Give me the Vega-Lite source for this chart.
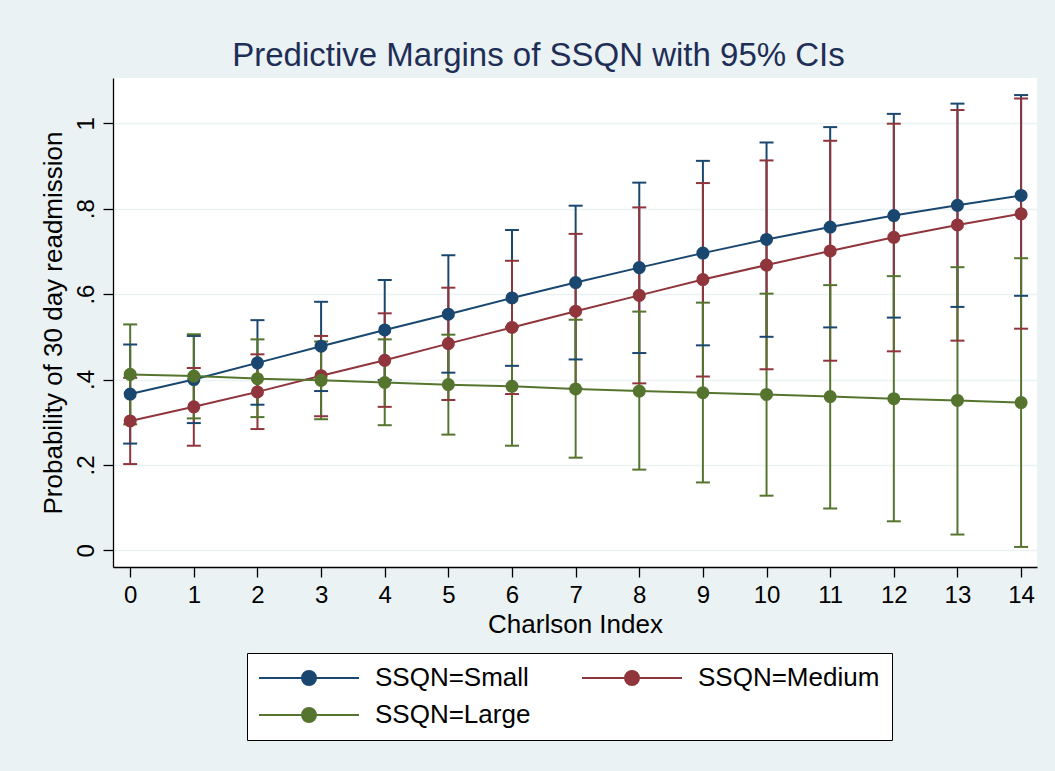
{
  "$schema": "https://vega.github.io/schema/vega-lite/v6.json",
  "width": 924,
  "height": 489,
  "autosize": {"type": "none"},
  "padding": {"left": 113, "top": 78, "right": 18, "bottom": 204},
  "background": "#EAF2F3",
  "title": {
    "text": "Predictive Margins of SSQN with 95% CIs",
    "fontSize": 33,
    "font": "Liberation Sans",
    "fontWeight": "normal",
    "color": "#1E2E57",
    "anchor": "middle",
    "frame": "bounds",
    "offset": 5
  },
  "config": {
    "font": "Liberation Sans",
    "view": {"fill": "white", "stroke": null},
    "axis": {
      "domainColor": "black",
      "domainWidth": 1.3,
      "tickColor": "black",
      "tickWidth": 1.3,
      "tickSize": 10,
      "labelColor": "black",
      "labelFontSize": 24,
      "titleColor": "black",
      "titleFontSize": 26,
      "titleFontWeight": "normal",
      "gridColor": "#EAF2F3",
      "gridWidth": 1.6
    }
  },
  "data": {
    "values": [
      {"charlson": 0, "group": "SSQN=Small", "margin": 0.366, "lo": 0.250, "hi": 0.482},
      {"charlson": 0, "group": "SSQN=Medium", "margin": 0.303, "lo": 0.202, "hi": 0.404},
      {"charlson": 0, "group": "SSQN=Large", "margin": 0.412, "lo": 0.295, "hi": 0.529},
      {"charlson": 1, "group": "SSQN=Small", "margin": 0.400, "lo": 0.298, "hi": 0.502},
      {"charlson": 1, "group": "SSQN=Medium", "margin": 0.336, "lo": 0.245, "hi": 0.427},
      {"charlson": 1, "group": "SSQN=Large", "margin": 0.408, "lo": 0.309, "hi": 0.506},
      {"charlson": 2, "group": "SSQN=Small", "margin": 0.439, "lo": 0.341, "hi": 0.539},
      {"charlson": 2, "group": "SSQN=Medium", "margin": 0.371, "lo": 0.284, "hi": 0.459},
      {"charlson": 2, "group": "SSQN=Large", "margin": 0.402, "lo": 0.312, "hi": 0.494},
      {"charlson": 3, "group": "SSQN=Small", "margin": 0.478, "lo": 0.373, "hi": 0.582},
      {"charlson": 3, "group": "SSQN=Medium", "margin": 0.409, "lo": 0.314, "hi": 0.502},
      {"charlson": 3, "group": "SSQN=Large", "margin": 0.398, "lo": 0.307, "hi": 0.489},
      {"charlson": 4, "group": "SSQN=Small", "margin": 0.516, "lo": 0.399, "hi": 0.633},
      {"charlson": 4, "group": "SSQN=Medium", "margin": 0.445, "lo": 0.336, "hi": 0.555},
      {"charlson": 4, "group": "SSQN=Large", "margin": 0.393, "lo": 0.293, "hi": 0.494},
      {"charlson": 5, "group": "SSQN=Small", "margin": 0.553, "lo": 0.416, "hi": 0.691},
      {"charlson": 5, "group": "SSQN=Medium", "margin": 0.484, "lo": 0.352, "hi": 0.615},
      {"charlson": 5, "group": "SSQN=Large", "margin": 0.388, "lo": 0.271, "hi": 0.505},
      {"charlson": 6, "group": "SSQN=Small", "margin": 0.591, "lo": 0.432, "hi": 0.750},
      {"charlson": 6, "group": "SSQN=Medium", "margin": 0.522, "lo": 0.366, "hi": 0.678},
      {"charlson": 6, "group": "SSQN=Large", "margin": 0.384, "lo": 0.245, "hi": 0.523},
      {"charlson": 7, "group": "SSQN=Small", "margin": 0.627, "lo": 0.447, "hi": 0.807},
      {"charlson": 7, "group": "SSQN=Medium", "margin": 0.560, "lo": 0.379, "hi": 0.741},
      {"charlson": 7, "group": "SSQN=Large", "margin": 0.378, "lo": 0.217, "hi": 0.540},
      {"charlson": 8, "group": "SSQN=Small", "margin": 0.662, "lo": 0.462, "hi": 0.861},
      {"charlson": 8, "group": "SSQN=Medium", "margin": 0.597, "lo": 0.391, "hi": 0.803},
      {"charlson": 8, "group": "SSQN=Large", "margin": 0.373, "lo": 0.189, "hi": 0.559},
      {"charlson": 9, "group": "SSQN=Small", "margin": 0.696, "lo": 0.480, "hi": 0.912},
      {"charlson": 9, "group": "SSQN=Medium", "margin": 0.634, "lo": 0.407, "hi": 0.860},
      {"charlson": 9, "group": "SSQN=Large", "margin": 0.369, "lo": 0.159, "hi": 0.580},
      {"charlson": 10, "group": "SSQN=Small", "margin": 0.728, "lo": 0.500, "hi": 0.955},
      {"charlson": 10, "group": "SSQN=Medium", "margin": 0.668, "lo": 0.424, "hi": 0.913},
      {"charlson": 10, "group": "SSQN=Large", "margin": 0.365, "lo": 0.128, "hi": 0.601},
      {"charlson": 11, "group": "SSQN=Small", "margin": 0.757, "lo": 0.522, "hi": 0.991},
      {"charlson": 11, "group": "SSQN=Medium", "margin": 0.701, "lo": 0.444, "hi": 0.959},
      {"charlson": 11, "group": "SSQN=Large", "margin": 0.360, "lo": 0.098, "hi": 0.621},
      {"charlson": 12, "group": "SSQN=Small", "margin": 0.784, "lo": 0.545, "hi": 1.022},
      {"charlson": 12, "group": "SSQN=Medium", "margin": 0.733, "lo": 0.466, "hi": 0.999},
      {"charlson": 12, "group": "SSQN=Large", "margin": 0.355, "lo": 0.068, "hi": 0.642},
      {"charlson": 13, "group": "SSQN=Small", "margin": 0.808, "lo": 0.570, "hi": 1.046},
      {"charlson": 13, "group": "SSQN=Medium", "margin": 0.762, "lo": 0.491, "hi": 1.031},
      {"charlson": 13, "group": "SSQN=Large", "margin": 0.351, "lo": 0.037, "hi": 0.663},
      {"charlson": 14, "group": "SSQN=Small", "margin": 0.831, "lo": 0.596, "hi": 1.066},
      {"charlson": 14, "group": "SSQN=Medium", "margin": 0.788, "lo": 0.519, "hi": 1.058},
      {"charlson": 14, "group": "SSQN=Large", "margin": 0.346, "lo": 0.008, "hi": 0.684}
    ]
  },
  "encoding": {
    "x": {
      "field": "charlson",
      "type": "quantitative",
      "title": "Charlson Index",
      "scale": {"domain": [-0.27, 14.25], "nice": false, "zero": false},
      "axis": {
        "values": [0, 1, 2, 3, 4, 5, 6, 7, 8, 9, 10, 11, 12, 13, 14],
        "grid": false,
        "labelPadding": 6,
        "titlePadding": 4
      }
    }
  },
  "layer": [
    {
      "mark": {"type": "rule", "strokeWidth": 2},
      "encoding": {
        "y": {
          "field": "lo",
          "type": "quantitative",
          "title": "Probability of 30 day readmission",
          "scale": {"domain": [-0.039, 1.106], "nice": false, "zero": false},
          "axis": {
            "values": [0, 0.2, 0.4, 0.6, 0.8, 1],
            "labelExpr": "replace(format(datum.value, '.1~f'), '0.', '.')",
            "labelAngle": -90,
            "labelAlign": "center",
            "labelBaseline": "alphabetic",
            "labelPadding": 10,
            "grid": true,
            "titlePadding": 8
          }
        },
        "y2": {"field": "hi"},
        "color": {
          "field": "group",
          "type": "nominal",
          "scale": {
            "domain": ["SSQN=Small", "SSQN=Medium", "SSQN=Large"],
            "range": ["#1A476F", "#90353B", "#55752F"]
          },
          "legend": {
            "title": null,
            "orient": "none",
            "legendX": 134,
            "legendY": 575,
            "direction": "horizontal",
            "columns": 2,
            "symbolType": "M-1.857,0H12.429M6.286,0A1,1,0,1,1,4.286,0A1,1,0,1,1,6.286,0Z",
            "symbolSize": 196,
            "symbolStrokeWidth": 2,
            "symbolOpacity": 1,
            "labelFontSize": 26,
            "labelColor": "black",
            "labelOffset": 90,
            "labelLimit": 0,
            "columnPadding": 47,
            "rowPadding": 11,
            "padding": 12,
            "fillColor": "white",
            "strokeColor": "black",
            "encode": {
              "symbols": {
                "update": {
                  "stroke": {"scale": "color", "field": "value"},
                  "fill": {"scale": "color", "field": "value"},
                  "size": {"value": 196},
                  "strokeWidth": {"value": 2},
                  "opacity": {"value": 1}
                }
              }
            }
          }
        }
      }
    },
    {
      "mark": {"type": "tick", "orient": "horizontal", "size": 14, "thickness": 2, "opacity": 1},
      "encoding": {
        "y": {"field": "lo", "type": "quantitative", "title": "Probability of 30 day readmission"},
        "color": {"field": "group", "type": "nominal"}
      }
    },
    {
      "mark": {"type": "tick", "orient": "horizontal", "size": 14, "thickness": 2, "opacity": 1},
      "encoding": {
        "y": {"field": "hi", "type": "quantitative", "title": "Probability of 30 day readmission"},
        "color": {"field": "group", "type": "nominal"}
      }
    },
    {
      "mark": {"type": "line", "strokeWidth": 2},
      "encoding": {
        "y": {"field": "margin", "type": "quantitative", "title": "Probability of 30 day readmission"},
        "color": {"field": "group", "type": "nominal"}
      }
    },
    {
      "mark": {"type": "point", "filled": true, "size": 170, "opacity": 1, "shape": "circle"},
      "encoding": {
        "y": {"field": "margin", "type": "quantitative", "title": "Probability of 30 day readmission"},
        "color": {"field": "group", "type": "nominal"}
      }
    }
  ]
}
